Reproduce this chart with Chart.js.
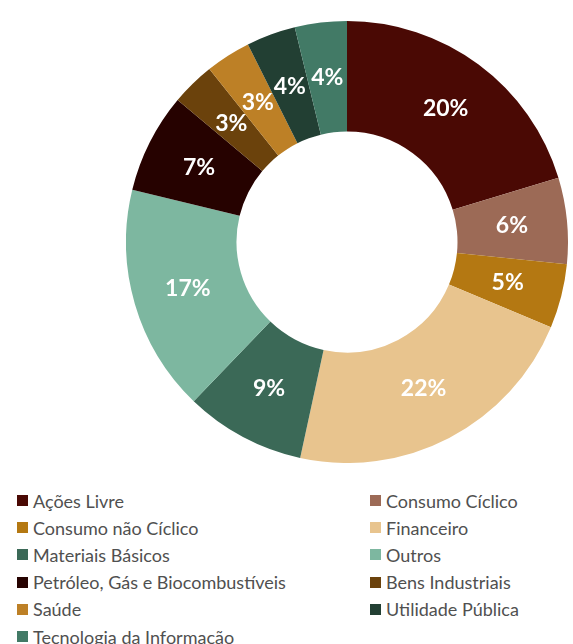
<!DOCTYPE html>
<html>
<head>
<meta charset="utf-8">
<script src="https://cdn.jsdelivr.net/npm/chart.js@4/dist/chart.umd.min.js"></script>
<style>
    html, body { margin: 0; padding: 0; background: #fff; }
    body { width: 573px; height: 644px; position: relative; overflow: hidden; font-family: Lato, 'Open Sans', sans-serif; }
    #chart-wrap { position: absolute; left: 126px; top: 21px; width: 442px; height: 442px; }
    #legend { position: absolute; left: 17px; top: 487px; display: grid; grid-template-columns: 353px auto; grid-auto-rows: 27.2px; }
    .legend-item { display: flex; align-items: center; color: #505050; font-size: 18px; white-space: nowrap; }
    .legend-box { width: 11px; height: 11px; margin-right: 5px; flex: none; }
</style>
</head>
<body>
<div id="chart-wrap"><canvas id="sector-chart"></canvas></div>
<div id="legend"></div>
<script>
const sectors = [
    'Ações Livre', 'Consumo Cíclico', 'Consumo não Cíclico', 'Financeiro',
    'Materiais Básicos', 'Outros', 'Petróleo, Gás e Biocombustíveis',
    'Bens Industriais', 'Saúde', 'Utilidade Pública', 'Tecnologia da Informação'
];
const weights = [20.3, 6.3, 4.7, 22.1, 8.8, 16.6, 7.3, 3.2, 3.3, 3.6, 3.8];
const sectorColors = [
    '#4a0904', '#9c6a56', '#b47812', '#e8c48e',
    '#3b6957', '#7db7a0', '#260200',
    '#6b420c', '#bd8026', '#223f33', '#427a66'
];

document.addEventListener('DOMContentLoaded', function() {
    const chart = initializeChart();
    buildLegend(chart);
});

// draws the percentage in the middle of each slice
const sliceLabels = {
    id: 'sliceLabels',
    afterDatasetsDraw(chart) {
        const ctx = chart.ctx;
        const data = chart.data.datasets[0].data;
        const total = data.reduce((a, b) => a + b, 0);
        const meta = chart.getDatasetMeta(0);
        ctx.save();
        ctx.font = 'bold 23px Lato, "Open Sans", sans-serif';
        ctx.fillStyle = '#ffffff';
        ctx.textAlign = 'center';
        ctx.textBaseline = 'middle';
        meta.data.forEach((arc, i) => {
            const pos = arc.tooltipPosition();
            const pct = Math.round(data[i] / total * 100);
            ctx.fillText(pct + '%', pos.x, pos.y);
        });
        ctx.restore();
    }
};

function initializeChart() {
    const ctx = document.getElementById('sector-chart').getContext('2d');
    return new Chart(ctx, {
        type: 'doughnut',
        data: {
            labels: sectors,
            datasets: [{
                data: weights,
                backgroundColor: sectorColors,
                borderWidth: 0
            }]
        },
        options: {
            responsive: true,
            maintainAspectRatio: false,
            animation: false,
            cutout: '50%',
            layout: { padding: 0 },
            plugins: {
                legend: { display: false },
                tooltip: { enabled: false }
            }
        },
        plugins: [sliceLabels]
    });
}

function buildLegend(chart) {
    const items = chart.options.plugins.legend.labels.generateLabels(chart);
    const legend = document.getElementById('legend');
    legend.innerHTML = items.map(item => `
        <div class="legend-item">
            <span class="legend-box" style="background:${item.fillStyle}"></span>
            <span>${item.text}</span>
        </div>
    `).join('');
}
</script>
</body>
</html>
